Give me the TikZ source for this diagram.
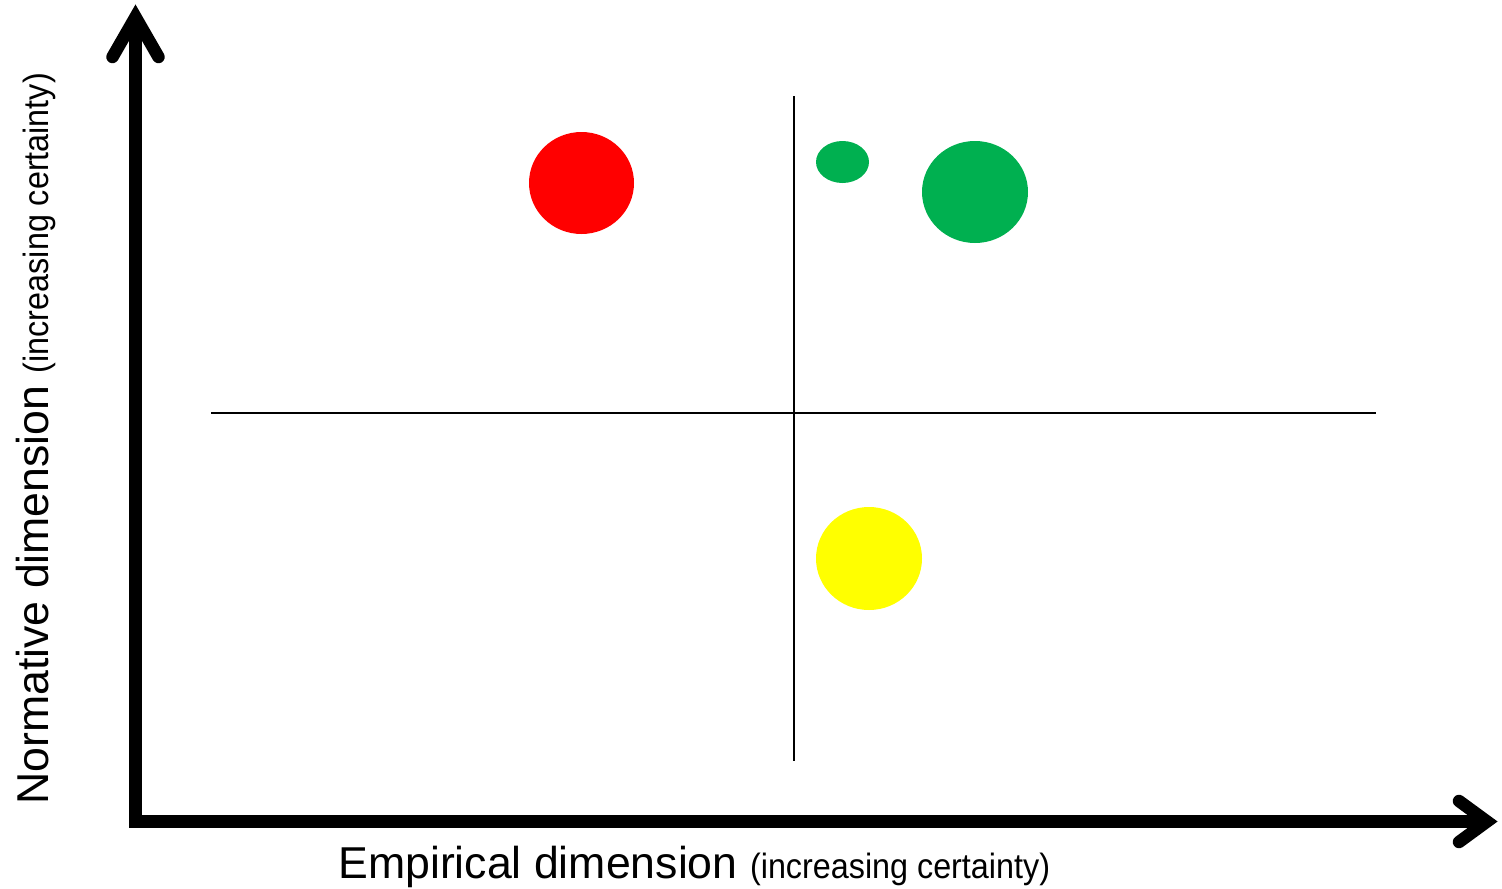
\documentclass[tikz,border=0pt]{standalone}
\usepackage{fontspec}
\setmainfont{Liberation Sans}
\newfontfamily\narrowfont{Liberation Sans}[FakeStretch=0.92]
\definecolor{dotred}{HTML}{FF0000}
\definecolor{dotgreen}{HTML}{00B050}
\definecolor{dotyellow}{HTML}{FFFF00}
\begin{document}
\begin{tikzpicture}[x=0.02cm, y=-0.02cm,
    axis/.style={line width=0.25cm, black, line join=miter},
    barb/.style={line width=0.25cm, black, line cap=round, line join=miter},
    quadrant/.style={line width=0.04cm, black},
    biglabel/.style={font=\fontsize{25.4}{30}\selectfont, inner sep=0pt}]
    \useasboundingbox (0,0) rectangle (1502,889);

    % Ejes
    \coordinate (O) at (135.5,821.5);
    \coordinate (Y_end) at (135.5,17);
    \coordinate (X_end) at (1487,821.5);
    \draw[axis] (Y_end) -- (O) -- (X_end);
    \draw[barb] (Y_end) ++(-23,40) -- (Y_end) -- ++(23,40);
    \draw[barb] (X_end) ++(-28,-20.5) -- (X_end) -- ++(-28,20.5);

    % Cuadrantes
    \coordinate (H_start) at (211,412.5);
    \coordinate (H_end) at (1376,412.5);
    \coordinate (V_start) at (793.5,96);
    \coordinate (V_end) at (793.5,761);
    \draw[quadrant] (H_start) -- (H_end);
    \draw[quadrant] (V_start) -- (V_end);

    % Puntos
    \fill[dotred] (581.5,183) ellipse (52.5 and 51);
    \fill[dotgreen] (842.5,162) ellipse (26.5 and 21);
    \fill[dotgreen] (975,192) ellipse (53 and 51);
    \fill[dotyellow] (869,558.5) ellipse (53 and 51.5);

    % Etiquetas
    \node[biglabel, anchor=base west] (xlabel) at (338,878)
        {Empirical dimension {\narrowfont\fontsize{20}{24}\selectfont (increasing certainty)}};
    \node[biglabel, anchor=base west, rotate=90] (ylabel) at (49,805)
        {Normative dimension {\narrowfont\fontsize{20}{24}\selectfont (increasing certainty)}};
\end{tikzpicture}
\end{document}
